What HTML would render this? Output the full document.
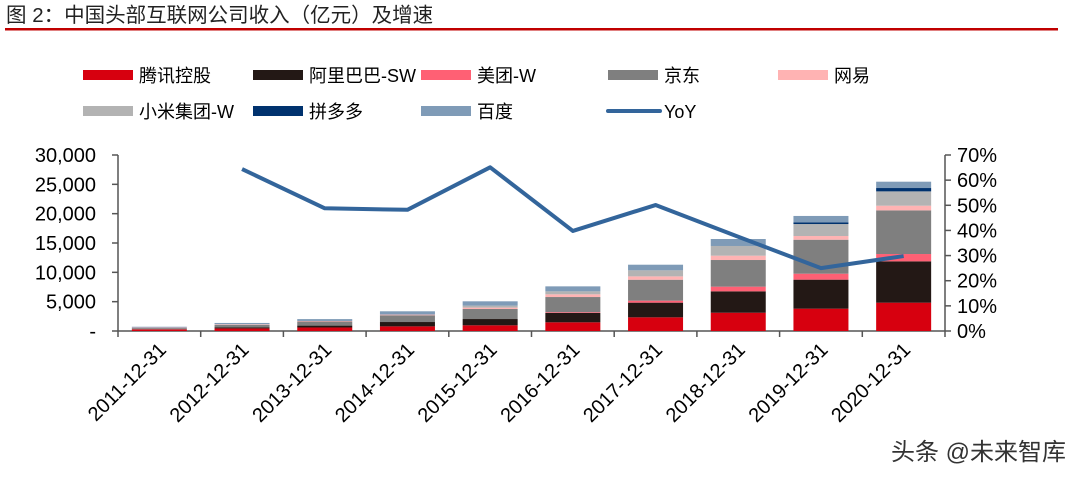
<!DOCTYPE html>
<html><head><meta charset="utf-8"><style>
body{margin:0;background:#fff;width:1077px;height:472px;overflow:hidden;font-family:"Liberation Sans","Noto Sans CJK SC",sans-serif;}
svg text{font-family:"Liberation Sans","Noto Sans CJK SC",sans-serif;}
</style></head><body>
<svg id="c" width="1077" height="472" xmlns="http://www.w3.org/2000/svg">
<text x="6" y="22" font-size="20.5" fill="#222">图 2：中国头部互联网公司收入（亿元）及增速</text>
<rect x="5" y="28" width="1053" height="2.5" fill="#c00000"/>
<g id="legend"></g>
<g id="plot"></g>
<text x="1066" y="460" font-size="24" fill="#333" text-anchor="end">头条 @未来智库</text>
</svg>
<script>
const categories=["2011-12-31","2012-12-31","2013-12-31","2014-12-31","2015-12-31","2016-12-31","2017-12-31","2018-12-31","2019-12-31","2020-12-31"];
const seriesNames=["腾讯控股","阿里巴巴-SW","美团-W","京东","网易","小米集团-W","拼多多","百度"];
const tencent=[285,440,600,790,970,1480,2330,3120,3810,4830];
const alibaba=[0,200,320,740,1070,1590,2500,3640,4940,7040];
const meituan=[0,0,0,0,0,130,340,800,1020,1250];
const jd=[212,413,693,1150,1710,2590,3570,4540,5790,7440];
const netease=[82,96,98,120,230,460,570,740,630,800];
const xiaomi=[0,0,0,0,340,510,1030,1650,2040,2440];
const pdd=[0,0,0,0,0,0,0,0,300,570];
const baidu=[145,223,319,560,740,850,960,1190,1080,1080];
const yoy=[null,64.4,48.8,48.2,65.1,39.8,50.1,37.5,25.0,29.8];
const leftTicks=[0,5000,10000,15000,20000,25000,30000];
const leftTickLabels=["-","5,000","10,000","15,000","20,000","25,000","30,000"];
const rightTicks=[0,10,20,30,40,50,60,70];
const colors=["#d7000f","#231815","#ff6074","#7f7f7f","#ffb3b3","#b3b3b3","#00326e","#7f9bb7"];
const lineColor="#33659b";
const NS="http://www.w3.org/2000/svg";
const X0=118,X1=945,Y0=331,Y1=155;
const band=(X1-X0)/categories.length;
const xc=i=>X0+band*(i+0.5);
const yl=v=>Y0-(v/30000)*(Y0-Y1);
const yr=v=>Y0-(v/70)*(Y0-Y1);
function mk(tag,attrs,parent){const e=document.createElementNS(NS,tag);for(const k in attrs)e.setAttribute(k,attrs[k]);parent.appendChild(e);return e;}
const plot=document.getElementById('plot');
const data=[tencent,alibaba,meituan,jd,netease,xiaomi,pdd,baidu];
let a=mk('line',{x1:X0,y1:Y1,x2:X0,y2:Y0,stroke:'#555','stroke-width':1.5},plot);

a=mk('line',{x1:X1,y1:Y1,x2:X1,y2:Y0,stroke:'#555','stroke-width':1.5},plot);

a=mk('line',{x1:X0,y1:Y0,x2:X1,y2:Y0,stroke:'#555','stroke-width':1.5},plot);

leftTicks.forEach((v,i)=>{
  mk('line',{x1:X0-6,x2:X0,y1:yl(v),y2:yl(v),stroke:'#555','stroke-width':1.5},plot);
  const t=mk('text',{x:X0-22,y:yl(v)+7,'font-size':20,'text-anchor':'end',fill:'#000'},plot);
  t.textContent=leftTickLabels[i];
  
});
rightTicks.forEach(v=>{
  mk('line',{x1:X1,x2:X1+6,y1:yr(v),y2:yr(v),stroke:'#555','stroke-width':1.5},plot);
  const t=mk('text',{x:X1+12,y:yr(v)+7,'font-size':20,fill:'#000'},plot);
  t.textContent=v+'%';
  
});
for(let i=0;i<=categories.length;i++){mk('line',{x1:X0+band*i,x2:X0+band*i,y1:Y0,y2:Y0+6,stroke:'#555','stroke-width':1.5},plot);}
categories.forEach((c,i)=>{
  const x=xc(i)+8,y=Y0+20;
  const t=mk('text',{x:x,y:y,'font-size':20,'text-anchor':'end',transform:`rotate(-45 ${x} ${y})`,fill:'#000'},plot);
  t.textContent=c;
  
});
const bw=55;
categories.forEach((c,i)=>{
  let acc=0;
  data.forEach((s,k)=>{
    const v=s[i];if(!v)return;
    const r=mk('rect',{x:xc(i)-bw/2,y:yl(acc+v),width:bw,height:yl(acc)-yl(acc+v),fill:colors[k]},plot);
    
    
    acc+=v;
  });
});
let d='';yoy.forEach((v,i)=>{if(v==null)return;d+=(d?'L':'M')+xc(i)+' '+yr(v);});
const p=mk('path',{d:d,fill:'none',stroke:lineColor,'stroke-width':4,'stroke-linejoin':'round'},plot);

const lg=document.getElementById('legend');
const lx=[83,253,421,608,778],ly=[75,111];
const entries=seriesNames.map((n,k)=>({n:n,c:colors[k]})).concat([{n:'YoY',c:lineColor,line:true}]);
entries.forEach((e,k)=>{
  const x=lx[k%5],y=ly[Math.floor(k/5)];
  const g=mk('g',{},lg);
  
  if(e.line) mk('line',{x1:x,x2:x+52,y1:y,y2:y,stroke:e.c,'stroke-width':4,'stroke-linecap':'round'},g);
  else mk('rect',{x:x,y:y-5,width:50,height:10,fill:e.c},g);
  const t=mk('text',{x:x+56,y:y+7,'font-size':18,fill:'#000'},g);
  t.textContent=e.n;
});
</script>
</body></html>
